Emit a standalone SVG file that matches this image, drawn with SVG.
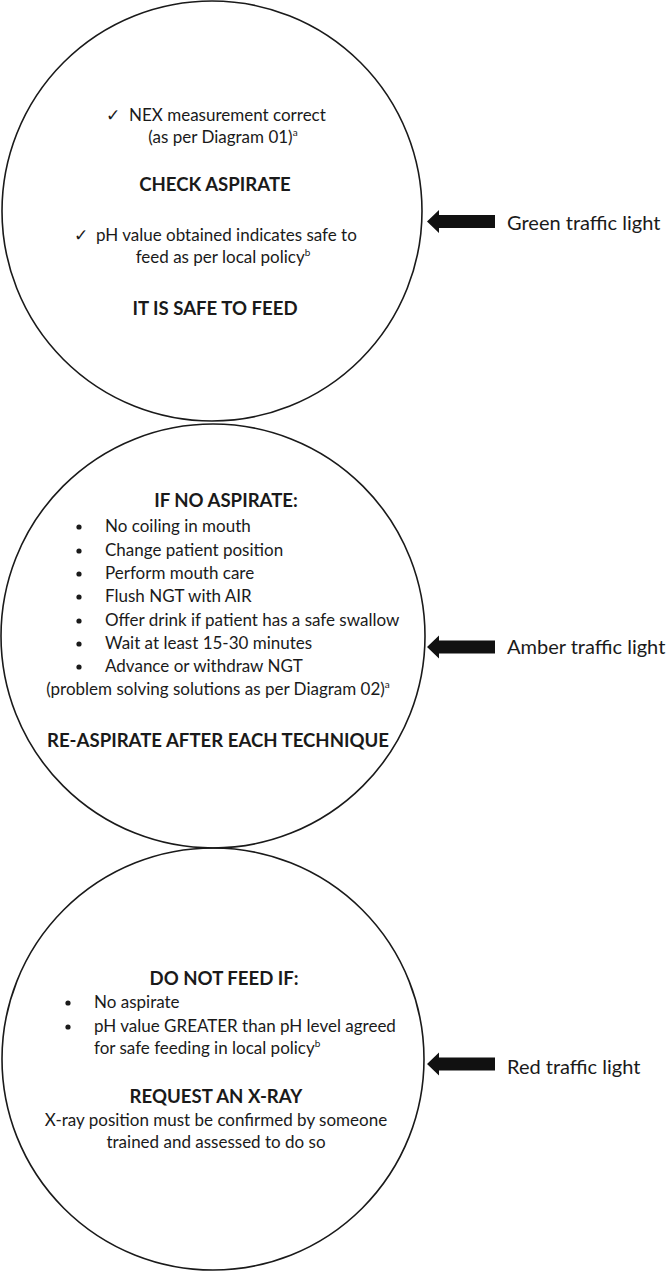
<svg xmlns="http://www.w3.org/2000/svg" width="666" height="1273" viewBox="0 0 666 1273">
<style>
.c{fill:none;stroke:#1a1a1a;stroke-width:1.6}
.t{font-family:Lato,"Liberation Sans",sans-serif;font-size:17px;fill:#1a1a1a}
.b{font-family:Lato,"Liberation Sans",sans-serif;font-size:18.6px;font-weight:bold;fill:#1a1a1a}
.m{text-anchor:middle}
.s{font-size:10px}
.k{font-family:"DejaVu Sans",sans-serif;font-size:17px}
.ar{fill:#111}
.lab{font-family:Lato,"Liberation Sans",sans-serif;font-size:20px;fill:#1a1a1a}
</style>
<defs>
<path id="arrow" d="M0,0 L12,-11.5 L12,-6.5 L68,-6.5 L68,6.5 L12,6.5 L12,11.5 Z"/>
</defs>
<rect width="666" height="1273" fill="#fff"/>
<g id="green">
<circle class="c" cx="212" cy="211" r="210"/>
<text class="t" x="106" y="121"><tspan class="k">✓</tspan><tspan x="129">NEX measurement correct</tspan></text>
<text class="t m" x="223" y="143">(as per Diagram 01)<tspan class="s" dy="-7">a</tspan></text>
<text class="b m" x="215" y="191">CHECK ASPIRATE</text>
<text class="t" x="74" y="241"><tspan class="k">✓</tspan><tspan x="96">pH value obtained indicates safe to</tspan></text>
<text class="t m" x="223" y="263">feed as per local policy<tspan class="s" dy="-7">b</tspan></text>
<text class="b m" x="215" y="315">IT IS SAFE TO FEED</text>
</g>
<g id="amber">
<circle class="c" cx="213" cy="636" r="212"/>
<text class="b m" x="226" y="507">IF NO ASPIRATE:</text>
<g class="t">
<circle cx="79" cy="527" r="2.6"/><text x="105" y="532">No coiling in mouth</text>
<circle cx="79" cy="551" r="2.6"/><text x="105" y="556">Change patient position</text>
<circle cx="79" cy="574" r="2.6"/><text x="105" y="579">Perform mouth care</text>
<circle cx="79" cy="597" r="2.6"/><text x="105" y="602">Flush NGT with AIR</text>
<circle cx="79" cy="621" r="2.6"/><text x="105" y="626">Offer drink if patient has a safe swallow</text>
<circle cx="79" cy="644" r="2.6"/><text x="105" y="649">Wait at least 15-30 minutes</text>
<circle cx="79" cy="667" r="2.6"/><text x="105" y="672">Advance or withdraw NGT</text>
</g>
<text class="t m" x="218" y="695">(problem solving solutions as per Diagram 02)<tspan class="s" dy="-7">a</tspan></text>
<text class="b m" x="218" y="747">RE-ASPIRATE AFTER EACH TECHNIQUE</text>
</g>
<g id="red">
<circle class="c" cx="213" cy="1059" r="211"/>
<text class="b m" x="224" y="985">DO NOT FEED IF:</text>
<g class="t">
<circle cx="68" cy="1003" r="2.6"/><text x="94" y="1008">No aspirate</text>
<circle cx="68" cy="1027" r="2.6"/><text x="94" y="1032">pH value GREATER than pH level agreed</text>
<text x="94" y="1054">for safe feeding in local policy<tspan class="s" dy="-7">b</tspan></text>
</g>
<text class="b m" x="216" y="1103">REQUEST AN X-RAY</text>
<text class="t m" x="216" y="1126">X-ray position must be confirmed by someone</text>
<text class="t m" x="216" y="1148">trained and assessed to do so</text>
</g>
<g id="connectors">
<use href="#arrow" class="ar" x="427" y="221.5"/>
<use href="#arrow" class="ar" x="427" y="647"/>
<use href="#arrow" class="ar" x="427" y="1064"/>
</g>
<g id="labels">
<text class="lab" x="507" y="230">Green traffic light</text>
<text class="lab" x="507" y="654">Amber traffic light</text>
<text class="lab" x="507" y="1074">Red traffic light</text>
</g>
</svg>
